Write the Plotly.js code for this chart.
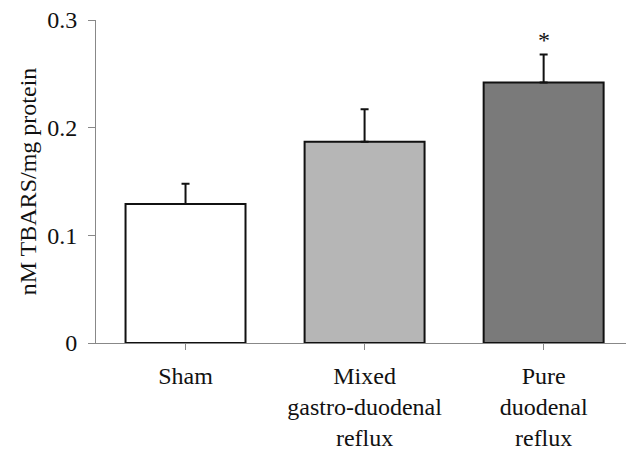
<!DOCTYPE html>
<html>
<head>
<meta charset="utf-8">
<script src="https://cdn.plot.ly/plotly-3.0.1.min.js"></script>
<style>
  html, body { margin: 0; padding: 0; background: #fff; }
  #chart { width: 626px; height: 451px; }
</style>
</head>
<body>
<div id="chart"></div>
<script>
// TBARS levels per group (mean and upper SEM)
const groups = ["Sham", "Mixed<br>gastro-duodenal<br>reflux", "Pure<br>duodenal<br>reflux"];
const means = [0.129, 0.187, 0.242];
const sem = [0.019, 0.030, 0.026];
const fills = ["#ffffff", "#b6b6b6", "#7a7a7a"];
const yTicks = [0, 0.1, 0.2, 0.3];
const yTickText = ["0", "0.1", "0.2", "0.3"];
const significant = [false, false, true];

const serif = "Liberation Serif, Times New Roman, serif";

const xs = groups.map((_, i) => i);

const bars = {
  type: "bar",
  x: xs,
  y: means,
  width: 0.67,
  marker: { color: fills, line: { color: "#111", width: 2 } },
  error_y: {
    type: "data",
    symmetric: false,
    array: sem,
    arrayminus: sem.map(() => 0),
    color: "#111",
    thickness: 2,
    width: 4
  },
  hoverinfo: "skip"
};

const stars = xs.filter(i => significant[i]).map(i => ({
  x: i,
  y: means[i] + sem[i],
  xref: "x",
  yref: "y",
  text: "*",
  showarrow: false,
  yanchor: "bottom",
  yshift: -1,
  font: { family: serif, size: 24, color: "#111" }
}));

const layout = {
  width: 626,
  height: 451,
  margin: { l: 96, r: 0, t: 20, b: 108 },
  paper_bgcolor: "#fff",
  plot_bgcolor: "#fff",
  showlegend: false,
  bargap: 0.33,
  font: { family: serif, size: 24, color: "#111" },
  xaxis: {
    range: [-0.5, 2.46],
    tickmode: "array",
    tickvals: xs,
    ticktext: groups,
    tickson: "boundaries",
    ticks: "outside",
    ticklen: 6,
    tickwidth: 1,
    tickcolor: "#888",
    ticklabelstandoff: 5,
    showline: true,
    linecolor: "#888",
    linewidth: 1,
    showgrid: false,
    zeroline: false,
    tickfont: { family: serif, size: 24, color: "#111" },
    fixedrange: true
  },
  yaxis: {
    range: [0, 0.3],
    tickmode: "array",
    tickvals: yTicks,
    ticktext: yTickText,
    ticks: "outside",
    ticklen: 7,
    tickwidth: 1,
    tickcolor: "#888",
    ticklabelstandoff: 6,
    showline: true,
    linecolor: "#888",
    linewidth: 1,
    showgrid: false,
    zeroline: false,
    tickfont: { family: serif, size: 24, color: "#111" },
    title: { text: "nM TBARS/mg protein", font: { family: serif, size: 24, color: "#111" }, standoff: 3 },
    fixedrange: true
  },
  annotations: stars
};

Plotly.newPlot("chart", [bars], layout, { staticPlot: true, displayModeBar: false });
</script>
</body>
</html>
